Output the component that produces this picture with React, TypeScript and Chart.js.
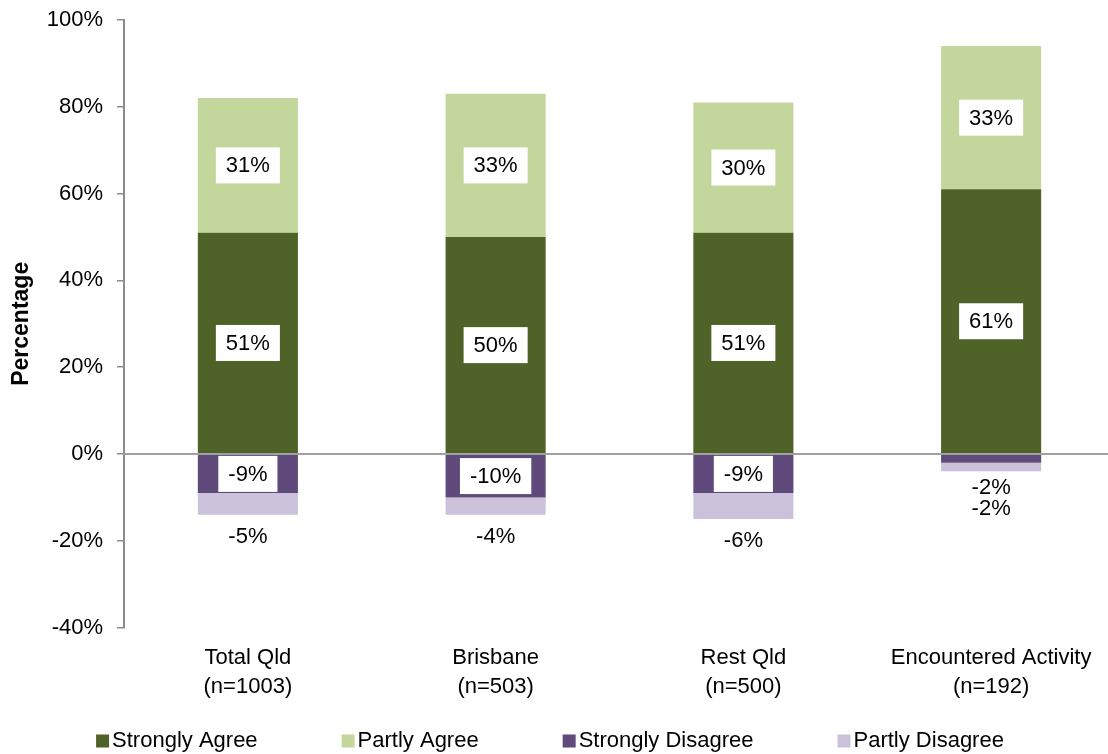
import React, { useEffect, useRef } from 'react';
import { Chart, registerables } from 'chart.js';

Chart.register(...registerables);

const FONT = '"Liberation Sans", Arial, Helvetica, sans-serif';

// ---- Data ----
const categories: string[][] = [
  ['Total Qld', '(n=1003)'],
  ['Brisbane', '(n=503)'],
  ['Rest Qld', '(n=500)'],
  ['Encountered Activity', '(n=192)'],
];
const stronglyAgree = [51, 50, 51, 61];
const partlyAgree = [31, 33, 30, 33];
const stronglyDisagree = [-9, -10, -9, -2];
const partlyDisagree = [-5, -4, -6, -2];
const seriesNames = ['Strongly Agree', 'Partly Agree', 'Strongly Disagree', 'Partly Disagree'];
const seriesColors = ['#4F6228', '#C3D69B', '#604A7B', '#CCC1DA'];
const yMin = -40;
const yMax = 100;
const yStep = 20;
const yTitle = 'Percentage';

const zeroLinePlugin = {
  id: 'zeroLineAndLabels',
  afterDatasetsDraw(chart: any) {
    const ctx = chart.ctx;
    const area = chart.chartArea;
    const ys = chart.scales.y;
    const y0 = ys.getPixelForValue(0);
    ctx.save();
    ctx.strokeStyle = '#a0a0a0';
    ctx.lineWidth = 2;
    ctx.beginPath();
    ctx.moveTo(area.left, y0);
    ctx.lineTo(area.right, y0);
    ctx.stroke();

    ctx.font = `22px ${FONT}`;
    ctx.textAlign = 'center';
    ctx.textBaseline = 'middle';
    const n = chart.data.labels.length;
    for (let i = 0; i < n; i++) {
      const outside: string[] = [];
      let bottom = -Infinity;
      let bx = 0;
      chart.data.datasets.forEach((ds: any, di: number) => {
        const meta = chart.getDatasetMeta(di);
        const el = meta.data[i];
        const v = ds.data[i];
        const p = el.getProps(['x', 'y', 'base'], true);
        const top = Math.min(p.y, p.base);
        const bot = Math.max(p.y, p.base);
        bottom = Math.max(bottom, bot);
        bx = p.x;
        const text = v + '%';
        const tw = ctx.measureText(text).width;
        const bh = 36;
        if (bot - top >= bh) {
          const cy = (top + bot) / 2;
          ctx.fillStyle = '#ffffff';
          ctx.fillRect(p.x - tw / 2 - 10, cy - bh / 2, tw + 20, bh);
          ctx.fillStyle = '#000000';
          ctx.fillText(text, p.x, cy + 1);
        } else if (v < 0) {
          outside.push(text);
        }
      });
      const first = 22 - (outside.length - 1) * 5.5;
      ctx.fillStyle = '#000000';
      outside.forEach((t, k) => {
        ctx.fillText(t, bx, bottom + first + k * 21);
      });
    }
    ctx.restore();
  },
};

const legendPlugin = {
  id: 'customLegend',
  afterDraw(chart: any) {
    const ctx = chart.ctx;
    ctx.save();
    ctx.font = `22px ${FONT}`;
    ctx.textBaseline = 'middle';
    ctx.textAlign = 'left';
    const box = 13;
    const gapText = 3;
    const gapItem = 84;
    const items = chart.data.datasets.map((ds: any) => ({
      text: ds.label,
      color: ds.backgroundColor,
      w: ctx.measureText(ds.label).width,
    }));
    const total =
      items.reduce((s: number, it: any) => s + box + gapText + it.w, 0) + gapItem * (items.length - 1);
    let x = chart.width / 2 - 10 - total / 2;
    const cy = chart.height - 13;
    items.forEach((it: any) => {
      ctx.fillStyle = it.color;
      ctx.fillRect(x, cy - box / 2, box, box);
      ctx.fillStyle = '#000000';
      ctx.fillText(it.text, x + box + gapText, cy);
      x += box + gapText + it.w + gapItem;
    });
    ctx.restore();
  },
};

export default function App() {
  const ref = useRef<HTMLCanvasElement | null>(null);

  useEffect(() => {
    document.body.style.overflow = 'hidden';
    const canvas = ref.current;
    if (!canvas) return;
    const values = [stronglyAgree, partlyAgree, stronglyDisagree, partlyDisagree];
    const chart = new Chart(canvas, {
      type: 'bar',
      data: {
        labels: categories as any,
        datasets: seriesNames.map((name, i) => ({
          label: name,
          data: values[i],
          backgroundColor: seriesColors[i],
          borderWidth: 0,
          stack: 's',
          categoryPercentage: 1,
          barPercentage: 0.404,
        })),
      },
      options: {
        responsive: false,
        animation: false,
        devicePixelRatio: 1,
        layout: { padding: { top: 20, right: 5, left: 0, bottom: 37 } },
        plugins: {
          legend: { display: false },
          tooltip: { enabled: false },
        },
        scales: {
          x: {
            stacked: true,
            grid: { display: false, drawTicks: false },
            border: { display: false },
            ticks: {
              color: '#000000',
              padding: 15,
              font: { family: FONT, size: 22, lineHeight: 1.35 },
              maxRotation: 0,
              autoSkip: false,
            },
          },
          y: {
            stacked: true,
            min: yMin,
            max: yMax,
            afterFit(scale: any) {
              scale.width = 124;
              scale.paddingTop = 0;
              scale.paddingBottom = 0;
            },
            ticks: {
              stepSize: yStep,
              color: '#000000',
              padding: 14,
              font: { family: FONT, size: 22 },
              callback: (v: any) => v + '%',
            },
            grid: {
              drawOnChartArea: false,
              drawTicks: true,
              tickLength: 7,
              tickColor: '#8c8c8c',
              color: '#8c8c8c',
              lineWidth: 1.5,
            },
            border: { display: true, color: '#8c8c8c', width: 2 },
            title: {
              display: true,
              text: yTitle,
              color: '#000000',
              font: { family: FONT, size: 23, weight: 'bold' },
              padding: { top: 8, bottom: 0 },
            },
          },
        },
      },
      plugins: [zeroLinePlugin, legendPlugin],
    });
    return () => chart.destroy();
  }, []);

  return (
    <div style={{ position: 'fixed', left: 0, top: 0, width: 1120, height: 754, background: '#ffffff' }}>
      <canvas ref={ref} width={1120} height={754} style={{ display: 'block', width: 1120, height: 754 }} />
    </div>
  );
}
